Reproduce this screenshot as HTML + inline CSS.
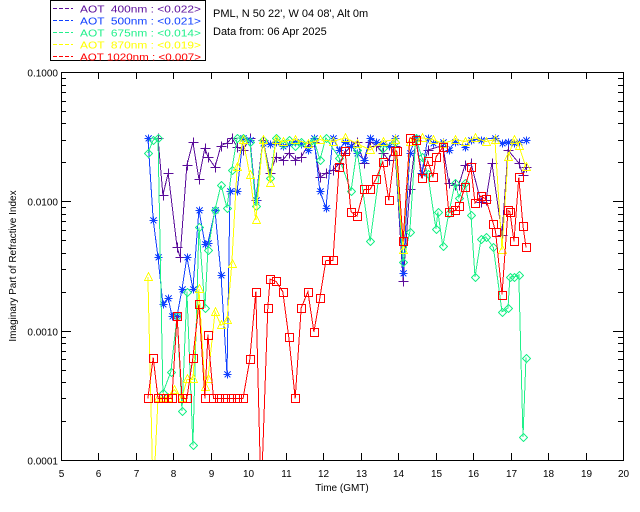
<!DOCTYPE html>
<html><head><meta charset="utf-8"><style>
html,body{margin:0;padding:0;background:#fff;}
svg{display:block;font-family:"Liberation Sans",sans-serif;}
</style></head><body>
<svg id="chart" width="640" height="512" viewBox="0 0 640 512" xmlns="http://www.w3.org/2000/svg">
<defs><clipPath id="plotclip"><rect x="61" y="72" width="562" height="388"/></clipPath></defs>
<rect x="0" y="0" width="640" height="512" fill="#fff"/>
<g id="legend">
<rect x="50.5" y="0.5" width="155" height="60" fill="#fff" stroke="#000"/>
</g>
<text x="213" y="17" font-size="11">PML, N 50 22', W 04 08', Alt 0m</text>
<text x="213" y="35" font-size="11">Data from: 06 Apr 2025</text>
<g id="axes"></g>
<g id="series" clip-path="url(#plotclip)"></g>
<text x="342" y="491" font-size="10" text-anchor="middle">Time (GMT)</text>
<text x="16" y="266" font-size="10" text-anchor="middle" transform="rotate(-90 16 266)">Imaginary Part of Refractive Index</text>
</svg>
<script>
const xTicks = [5,6,7,8,9,10,11,12,13,14,15,16,17,18,19,20];
const yTickValues = [0.0001,0.001,0.01,0.1];
const yTickLabels = ["0.0001","0.0010","0.0100","0.1000"];
const legendLabels = ["AOT  400nm : <0.022>","AOT  500nm : <0.021>","AOT  675nm : <0.014>","AOT  870nm : <0.019>","AOT 1020nm : <0.007>"];

const t400 = [7.59,7.72,7.86,8.10,8.18,8.36,8.52,8.68,8.84,8.92,9.11,9.27,9.43,9.56,9.70,9.86,10.04,10.20,10.39,10.58,10.74,10.92,11.08,11.25,11.41,11.59,11.75,11.91,12.07,12.26,12.42,12.58,12.74,12.90,13.09,13.25,13.41,13.59,13.75,13.91,14.13,14.31,14.47,14.63,14.79,15.19,15.35,15.52,15.62,15.78,15.94,16.21,16.34,16.50,16.77,16.93,17.22,17.33,17.41];
const v400 = [0.031,0.0112,0.0165,0.0044,0.0037,0.0191,0.0286,0.0149,0.026,0.022,0.0184,0.027,0.0282,0.031,0.0263,0.0249,0.031,0.0102,0.030,0.0165,0.0221,0.0209,0.0236,0.0209,0.022,0.027,0.029,0.0153,0.0165,0.0175,0.0195,0.0236,0.027,0.029,0.0198,0.029,0.027,0.0236,0.0209,0.027,0.0024,0.0124,0.0298,0.0165,0.0249,0.027,0.0139,0.0134,0.0134,0.019,0.0198,0.0099,0.0102,0.0198,0.0055,0.0249,0.0198,0.016,0.0184];

const t500 = [7.32,7.46,7.59,7.72,7.86,7.96,8.10,8.23,8.36,8.52,8.68,8.84,8.92,9.11,9.27,9.43,9.51,9.70,9.86,10.04,10.20,10.39,10.58,10.74,10.92,11.08,11.25,11.41,11.59,11.75,11.91,12.07,12.26,12.42,12.58,12.74,12.90,13.09,13.25,13.41,13.59,13.75,13.91,14.13,14.31,14.47,14.63,14.79,14.93,15.19,15.35,15.52,15.78,15.94,16.21,16.58,16.77,16.93,17.09,17.22,17.41];
const v500 = [0.031,0.0072,0.0037,0.0016,0.0018,0.0013,0.0013,0.0021,0.0037,0.0021,0.0086,0.0047,0.0048,0.0085,0.0027,0.00046,0.012,0.012,0.031,0.0298,0.0102,0.0282,0.028,0.029,0.027,0.028,0.029,0.028,0.0249,0.031,0.012,0.0089,0.031,0.0249,0.029,0.027,0.0236,0.021,0.031,0.029,0.028,0.027,0.031,0.0028,0.0236,0.031,0.0165,0.031,0.0282,0.029,0.0249,0.029,0.0263,0.030,0.030,0.031,0.0282,0.029,0.0282,0.029,0.0298];

const t675 = [7.32,7.46,7.59,7.72,7.93,8.10,8.23,8.36,8.52,8.68,8.84,8.92,9.11,9.27,9.43,9.56,9.70,9.86,10.04,10.20,10.39,10.58,10.74,10.92,11.08,11.25,11.41,11.59,11.75,11.91,12.07,12.42,12.74,12.90,13.25,13.59,13.91,14.13,14.31,14.47,14.63,14.79,15.01,15.06,15.19,15.35,15.52,15.62,15.78,15.94,16.05,16.21,16.34,16.54,16.77,16.93,16.98,17.09,17.22,17.33,17.41];
const v675 = [0.0236,0.0298,0.031,0.00033,0.00048,0.0013,0.00024,0.002,0.00013,0.0063,0.0015,0.0042,0.0086,0.0134,0.0089,0.0175,0.031,0.031,0.0289,0.0092,0.030,0.0151,0.031,0.028,0.030,0.027,0.029,0.028,0.030,0.0209,0.031,0.0218,0.012,0.025,0.0049,0.026,0.029,0.0034,0.0058,0.031,0.022,0.0163,0.0061,0.0083,0.0045,0.0081,0.0139,0.0107,0.0139,0.0079,0.0026,0.0051,0.0053,0.0044,0.0014,0.0015,0.0026,0.0026,0.0027,0.00015,0.00062];

const t870 = [7.32,7.46,7.59,7.72,7.86,8.02,8.23,8.36,8.52,8.68,8.84,8.92,9.11,9.27,9.43,9.56,9.70,9.86,10.04,10.20,10.39,10.58,10.74,10.92,11.25,11.59,11.91,12.26,12.58,12.90,13.25,13.59,13.91,14.13,14.31,14.63,14.93,15.19,15.52,15.78,16.05,16.34,16.58,16.77,16.93,17.09,17.22,17.41];
const v870 = [0.0026,0.00005,0.0003,0.0003,0.0003,0.00035,0.0003,0.00042,0.00042,0.0021,0.00037,0.00042,0.0014,0.0011,0.0012,0.0033,0.0184,0.0298,0.016,0.0072,0.030,0.0139,0.030,0.029,0.030,0.028,0.030,0.029,0.031,0.028,0.025,0.029,0.030,0.0042,0.029,0.031,0.030,0.028,0.030,0.029,0.031,0.029,0.030,0.0042,0.022,0.030,0.027,0.0184];

const t1020 = [7.32,7.46,7.59,7.72,7.86,7.96,8.10,8.23,8.36,8.52,8.68,8.84,8.92,9.07,9.23,9.39,9.55,9.70,9.86,10.04,10.20,10.34,10.52,10.58,10.74,10.92,11.08,11.25,11.41,11.59,11.75,11.91,12.07,12.26,12.42,12.58,12.74,12.90,13.09,13.25,13.41,13.59,13.75,13.91,13.96,14.13,14.31,14.47,14.63,14.79,14.93,15.01,15.19,15.35,15.52,15.62,15.78,15.94,16.05,16.21,16.34,16.54,16.60,16.77,16.93,16.98,17.09,17.22,17.33,17.41];
const v1020 = [0.0003,0.00062,0.0003,0.0003,0.0003,0.0003,0.0013,0.0003,0.0003,0.00062,0.0016,0.0003,0.00093,0.0003,0.0003,0.0003,0.0003,0.0003,0.0003,0.0006,0.002,0.00005,0.0015,0.0025,0.0024,0.002,0.00089,0.0003,0.0015,0.002,0.00098,0.0018,0.0035,0.0035,0.0184,0.0245,0.0083,0.0077,0.0124,0.0124,0.0149,0.0203,0.0102,0.0245,0.0245,0.0049,0.031,0.030,0.0151,0.0205,0.0153,0.022,0.0263,0.0082,0.0085,0.0092,0.0129,0.0184,0.0097,0.011,0.0104,0.0067,0.0058,0.0019,0.0085,0.0083,0.0049,0.0153,0.0064,0.0044];

const NS = "http://www.w3.org/2000/svg";
const X0 = 61, X1 = 623, Y0 = 460, Y1 = 72;
function xScale(t){ return X0 + (t - 5) / 15 * (X1 - X0); }
function yScale(v){ return Y0 - (Math.log10(v) + 4) / 3 * (Y0 - Y1); }
function mk(tag, attrs, parent){ const e = document.createElementNS(NS, tag); for (const k in attrs) e.setAttribute(k, attrs[k]); parent.appendChild(e); return e; }

const axes = document.getElementById('axes');
const frame = mk('rect', {x: X0 + 0.5, y: Y1 + 0.5, width: X1 - X0, height: Y0 - Y1, fill: 'none', stroke: '#000', 'stroke-width': 1}, axes);


xTicks.forEach(t => {
  const x = Math.round(xScale(t)) + 0.5;
  const tk = mk('line', {x1: x, x2: x, y1: Y0, y2: Y0 - 7, stroke: '#000'}, axes);
  
  
  const tk2 = mk('line', {x1: x, x2: x, y1: Y1, y2: Y1 + 7, stroke: '#000'}, axes);
  
  
  const lb = mk('text', {x: x, y: Y0 + 17, 'font-size': 10, 'text-anchor': 'middle'}, axes);
  lb.textContent = String(t);
  
  
});
yTickValues.forEach((v, i) => {
  const y = Math.round(yScale(v)) + 0.5;
  const tk = mk('line', {x1: X0, x2: X0 + 10, y1: y, y2: y, stroke: '#000'}, axes);
  
  
  const tk2 = mk('line', {x1: X1, x2: X1 - 10, y1: y, y2: y, stroke: '#000'}, axes);
  
  
  const lb = mk('text', {x: X0 - 3, y: y + 4, 'font-size': 10, 'text-anchor': 'end'}, axes);
  lb.textContent = yTickLabels[i];
  
  
  if (i < yTickValues.length - 1) {
    for (let m = 2; m <= 9; m++) {
      const ym = Math.round(yScale(v * m)) + 0.5;
      const mt = mk('line', {x1: X0, x2: X0 + 5, y1: ym, y2: ym, stroke: '#000'}, axes);
      
      
      const mt2 = mk('line', {x1: X1, x2: X1 - 5, y1: ym, y2: ym, stroke: '#000'}, axes);
      
      
    }
  }
});

const seriesDefs = [
  {t: t400, v: v400, color: '#5a0c9a', marker: 'plus', name: 'aot-400nm'},
  {t: t500, v: v500, color: '#1040ff', marker: 'star', name: 'aot-500nm'},
  {t: t675, v: v675, color: '#20f08a', marker: 'diamond', name: 'aot-675nm'},
  {t: t870, v: v870, color: '#ffff00', marker: 'triangle', name: 'aot-870nm'},
  {t: t1020, v: v1020, color: '#ff0000', marker: 'square', name: 'aot-1020nm'}
];
const sg = document.getElementById('series');
function marker(g, type, x, y, c){
  let e;
  if (type === 'plus') e = mk('path', {d: `M${x-5} ${y}H${x+5}M${x} ${y-5}V${y+5}`, stroke: c, fill: 'none'}, g);
  else if (type === 'star') e = mk('path', {d: `M${x-4} ${y}H${x+4}M${x} ${y-4}V${y+4}M${x-3} ${y-3}L${x+3} ${y+3}M${x-3} ${y+3}L${x+3} ${y-3}`, stroke: c, fill: 'none', 'stroke-width': 1.2}, g);
  else if (type === 'diamond') e = mk('path', {d: `M${x} ${y-4}L${x+4} ${y}L${x} ${y+4}L${x-4} ${y}Z`, stroke: c, fill: 'none'}, g);
  else if (type === 'triangle') e = mk('path', {d: `M${x} ${y-5}L${x+4} ${y+3}L${x-4} ${y+3}Z`, stroke: c, fill: 'none'}, g);
  else e = mk('rect', {x: x-4, y: y-4, width: 8, height: 8, stroke: c, fill: 'none', 'stroke-width': 1}, g);
  
  
}
seriesDefs.forEach(s => {
  const g = mk('g', {'shape-rendering': 'crispEdges'}, sg);
  
  
  const pts = s.t.map((t, i) => xScale(t).toFixed(1) + ',' + yScale(s.v[i]).toFixed(1)).join(' ');
  const pl = mk('polyline', {points: pts, fill: 'none', stroke: s.color, 'stroke-width': 1}, g);
  
  
  s.t.forEach((t, i) => marker(g, s.marker, Math.round(xScale(t)) + 0.5, Math.round(yScale(s.v[i])) + 0.5, s.color));
});

const lg = document.getElementById('legend');
seriesDefs.forEach((s, i) => {
  const y = 8.5 + i * 12;
  const ln = mk('line', {x1: 53, x2: 73, y1: y, y2: y, stroke: s.color, 'stroke-dasharray': '4,2'}, lg);
  
  
  const tx = mk('text', {x: 80, y: y + 4, 'font-size': 10, fill: s.color, textLength: 121, lengthAdjust: 'spacingAndGlyphs'}, lg);
  tx.style.whiteSpace = 'pre';
  tx.textContent = legendLabels[i];
  
  
});
</script>
</body></html>
